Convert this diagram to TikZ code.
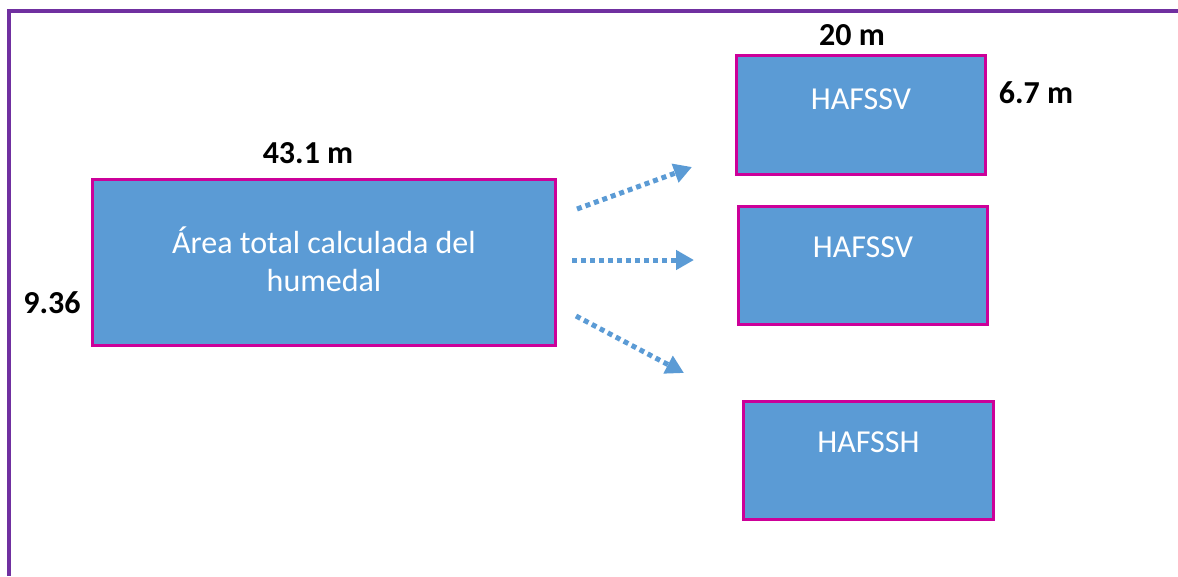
\documentclass[tikz,border=0pt]{standalone}
\usepackage{fontspec}
\setmainfont{Carlito}
\usetikzlibrary{arrows.meta}
\definecolor{boxblue}{HTML}{5B9BD5}
\definecolor{boxedge}{HTML}{CC0099}
\definecolor{framepurple}{HTML}{7030A0}
\begin{document}
\begin{tikzpicture}[x=1pt,y=-1pt,
  area/.style={draw=boxedge, fill=boxblue, line width=3pt, inner sep=0pt, anchor=north west},
  boxtext/.style={text=white, font=\fontsize{32}{38}\selectfont, align=center, inner sep=0pt},
  dim/.style={text=black, font=\bfseries\fontsize{32}{38}\selectfont, inner sep=0pt},
  flow/.style={draw=boxblue, line width=5pt, dash pattern=on 5pt off 4pt, -{Triangle[length=18pt,width=19pt]}}]
\useasboundingbox (0,0) rectangle (1178,576);
\draw[framepurple, line width=4.5pt] (9,576) -- (9,11) -- (1178,11);
% boxes
\node[area, minimum width=463pt, minimum height=166pt] (main) at (91,178) {};
\node[area, minimum width=249pt, minimum height=119pt] (b1) at (735,54) {};
\node[area, minimum width=249pt, minimum height=118pt] (b2) at (737,205) {};
\node[area, minimum width=250pt, minimum height=118pt] (b3) at (742,400) {};
% texts
\node[boxtext] (tmain) at ([yshift=3pt]main.center) {Área total calculada del\\humedal};
\node[boxtext] (t1) at ([yshift=-45pt]b1.north) {HAFSSV};
\node[boxtext] (t2) at ([yshift=-42pt]b2.north) {HAFSSV};
\node[boxtext] (t3) at ([yshift=-42pt]b3.north) {HAFSSH};
% dimensions
\node[dim] (w0) at (308,153) {43.1 m};
\node[dim] (h0) at (52,303) {9.36};
\node[dim] (w1) at (852,35) {20 m};
\node[dim] (h1) at (1036,93) {6.7 m};
% arrows
\coordinate (s1) at (577,209); \coordinate (e1) at (692,167);
\coordinate (s2) at (572,260); \coordinate (e2) at (694,260);
\coordinate (s3) at (576,316); \coordinate (e3) at (684,373);
\draw[flow] (s1) -- (e1);
\draw[flow] (s2) -- (e2);
\draw[flow] (s3) -- (e3);
\end{tikzpicture}
\end{document}
